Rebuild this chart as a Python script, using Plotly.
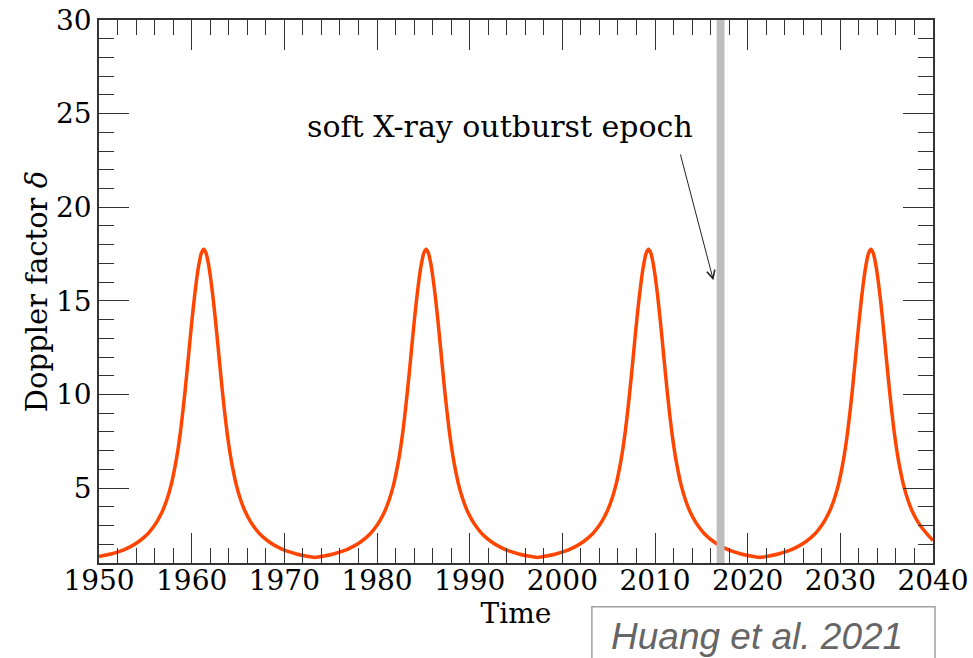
import plotly.graph_objects as go

# Values (time in years, Doppler factor delta)
years = [
    1950.0, 1951.3, 1952.3, 1953.3, 1954.3, 1955.3, 1955.8, 1956.3, 1956.8, 1957.3, 1957.8, 1958.3,
    1958.55, 1958.8, 1959.05, 1959.3, 1959.55, 1959.8, 1960.05, 1960.3, 1960.55, 1960.8, 1961.05,
    1961.3,
    1961.55, 1961.8, 1962.05, 1962.3, 1962.55, 1962.8, 1963.05, 1963.3, 1963.55, 1963.8, 1964.05,
    1964.3, 1964.8, 1965.3, 1965.8, 1966.3, 1966.8, 1967.3, 1968.3, 1969.3, 1970.3, 1971.3, 1972.3,
    1973.3,
    1974.3, 1975.3, 1976.3, 1977.3, 1978.3, 1979.3, 1979.8, 1980.3, 1980.8, 1981.3, 1981.8, 1982.3,
    1982.55, 1982.8, 1983.05, 1983.3, 1983.55, 1983.8, 1984.05, 1984.3, 1984.55, 1984.8, 1985.05,
    1985.3,
    1985.55, 1985.8, 1986.05, 1986.3, 1986.55, 1986.8, 1987.05, 1987.3, 1987.55, 1987.8, 1988.05,
    1988.3, 1988.8, 1989.3, 1989.8, 1990.3, 1990.8, 1991.3, 1992.3, 1993.3, 1994.3, 1995.3, 1996.3,
    1997.3,
    1998.3, 1999.3, 2000.3, 2001.3, 2002.3, 2003.3, 2003.8, 2004.3, 2004.8, 2005.3, 2005.8, 2006.3,
    2006.55, 2006.8, 2007.05, 2007.3, 2007.55, 2007.8, 2008.05, 2008.3, 2008.55, 2008.8, 2009.05,
    2009.3,
    2009.55, 2009.8, 2010.05, 2010.3, 2010.55, 2010.8, 2011.05, 2011.3, 2011.55, 2011.8, 2012.05,
    2012.3, 2012.8, 2013.3, 2013.8, 2014.3, 2014.8, 2015.3, 2016.3, 2017.3, 2018.3, 2019.3, 2020.3,
    2021.3,
    2022.3, 2023.3, 2024.3, 2025.3, 2026.3, 2027.3, 2027.8, 2028.3, 2028.8, 2029.3, 2029.8, 2030.3,
    2030.55, 2030.8, 2031.05, 2031.3, 2031.55, 2031.8, 2032.05, 2032.3, 2032.55, 2032.8, 2033.05,
    2033.3,
    2033.55, 2033.8, 2034.05, 2034.3, 2034.55, 2034.8, 2035.05, 2035.3, 2035.55, 2035.8, 2036.05,
    2036.3, 2036.8, 2037.3, 2037.8, 2038.3, 2038.8, 2039.3, 2040.0,
]
delta = [
    1.35, 1.48, 1.63, 1.85, 2.15, 2.58, 2.88, 3.25, 3.72, 4.35, 5.2, 6.4,
    7.15, 8.05, 9.1, 10.25, 11.5, 12.8, 14.05, 15.2, 16.2, 17.0, 17.55,
    17.75,
    17.55, 17.0, 16.2, 15.2, 14.05, 12.8, 11.5, 10.25, 9.1, 8.05, 7.15,
    6.4, 5.2, 4.35, 3.72, 3.25, 2.88, 2.58, 2.15, 1.85, 1.63, 1.48, 1.37,
    1.3,
    1.37, 1.48, 1.63, 1.85, 2.15, 2.58, 2.88, 3.25, 3.72, 4.35, 5.2, 6.4,
    7.15, 8.05, 9.1, 10.25, 11.5, 12.8, 14.05, 15.2, 16.2, 17.0, 17.55,
    17.75,
    17.55, 17.0, 16.2, 15.2, 14.05, 12.8, 11.5, 10.25, 9.1, 8.05, 7.15,
    6.4, 5.2, 4.35, 3.72, 3.25, 2.88, 2.58, 2.15, 1.85, 1.63, 1.48, 1.37,
    1.3,
    1.37, 1.48, 1.63, 1.85, 2.15, 2.58, 2.88, 3.25, 3.72, 4.35, 5.2, 6.4,
    7.15, 8.05, 9.1, 10.25, 11.5, 12.8, 14.05, 15.2, 16.2, 17.0, 17.55,
    17.75,
    17.55, 17.0, 16.2, 15.2, 14.05, 12.8, 11.5, 10.25, 9.1, 8.05, 7.15,
    6.4, 5.2, 4.35, 3.72, 3.25, 2.88, 2.58, 2.15, 1.85, 1.63, 1.48, 1.37,
    1.3,
    1.37, 1.48, 1.63, 1.85, 2.15, 2.58, 2.88, 3.25, 3.72, 4.35, 5.2, 6.4,
    7.15, 8.05, 9.1, 10.25, 11.5, 12.8, 14.05, 15.2, 16.2, 17.0, 17.55,
    17.75,
    17.55, 17.0, 16.2, 15.2, 14.05, 12.8, 11.5, 10.25, 9.1, 8.05, 7.15,
    6.4, 5.2, 4.35, 3.72, 3.25, 2.88, 2.58, 2.2,
]

outburst_start = 2016.65
outburst_end = 2017.5
annotation_text = "soft X-ray outburst epoch"
credit_text = "Huang et al. 2021"
x_ticks = [1950, 1960, 1970, 1980, 1990, 2000, 2010, 2020, 2030, 2040]
y_ticks = [5, 10, 15, 20, 25, 30]

SERIF = "DejaVu Serif"
AXC = "#333333"

fig = go.Figure()
fig.add_trace(go.Scatter(
    x=years, y=delta, mode="lines",
    line=dict(color="rgb(255,69,0)", width=3.5, shape="spline", smoothing=0.6),
    hoverinfo="skip", showlegend=False,
))

fig.add_shape(type="rect", xref="x", yref="paper", x0=outburst_start, x1=outburst_end,
              y0=0, y1=1, fillcolor="#bdbdbd", line=dict(width=0), layer="above")

# annotation text and arrow
fig.add_annotation(x=1993.3, y=24.3, xref="x", yref="y", text=annotation_text,
                   showarrow=False, font=dict(family=SERIF, size=30, color="black"),
                   xanchor="center", yanchor="middle")
fig.add_annotation(x=2016.3, y=16.1, ax=2012.7, ay=22.9, xref="x", yref="y",
                   axref="x", ayref="y", text="", showarrow=True,
                   arrowhead=5, arrowsize=1.6, arrowwidth=1, arrowcolor="#222222")

# credit box
fig.add_shape(type="rect", xref="paper", yref="paper", x0=0.591, x1=1.0024,
              y0=-0.185, y1=-0.0805, line=dict(color="#a0a0a0", width=1.5),
              fillcolor="rgba(0,0,0,0)", layer="above")
fig.add_annotation(x=0.789, y=-0.136, xref="paper", yref="paper", text="<i>" + credit_text + "</i>",
                   showarrow=False, font=dict(family="Liberation Sans", size=37, color="#666666"),
                   xanchor="center", yanchor="middle")

axis_common = dict(
    showline=True, linecolor=AXC, linewidth=1.5, mirror="allticks",
    ticks="inside", tickcolor=AXC, tickwidth=1.2, ticklen=30,
    showgrid=False, zeroline=False, automargin=False,
    tickfont=dict(family=SERIF, size=28, color="black"),
)

fig.update_xaxes(
    range=[1950, 2040], tickvals=x_ticks, ticklabelstandoff=-8,
    minor=dict(ticks="inside", ticklen=15, dtick=2, tick0=1950, tickcolor=AXC, tickwidth=1.2, showgrid=False),
    title=dict(text="Time", font=dict(family=SERIF, size=28, color="black"), standoff=2),
    **axis_common,
)
fig.update_yaxes(
    range=[1, 30], tickvals=y_ticks,
    minor=dict(ticks="inside", ticklen=15, dtick=1, tick0=0, tickcolor=AXC, tickwidth=1.2, showgrid=False),
    title=dict(text="Doppler factor <i>δ</i>", font=dict(family=SERIF, size=29, color="black"), standoff=0),
    **axis_common,
)

fig.update_layout(
    width=973, height=658,
    margin=dict(l=99, r=40, t=20, b=95, pad=0),
    plot_bgcolor="white", paper_bgcolor="white",
    font=dict(family=SERIF),
)

fig.write_html("out.html")
